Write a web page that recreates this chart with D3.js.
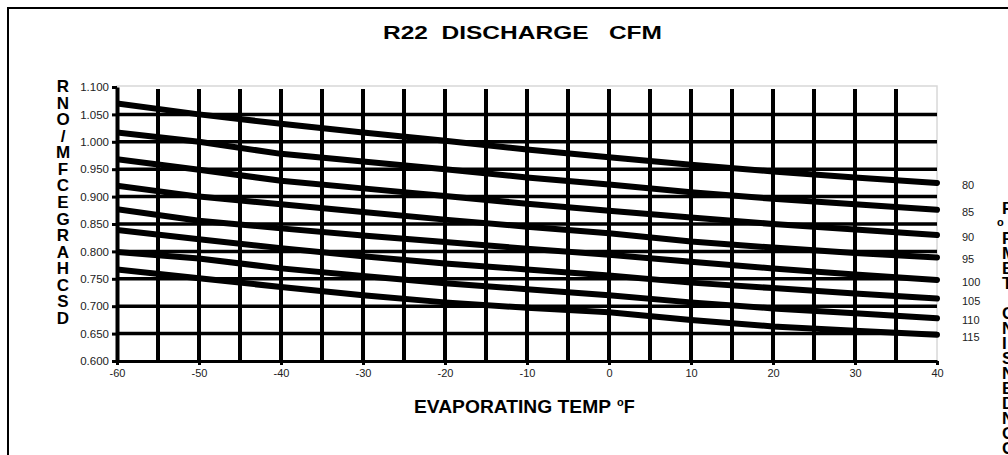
<!DOCTYPE html>
<html>
<head>
<meta charset="utf-8">
<script src="https://cdn.jsdelivr.net/npm/d3@7"></script>
<style>
  html, body { margin: 0; padding: 0; background: #fff; overflow: hidden; }
  svg { display: block; font-family: "Liberation Sans", Arial, sans-serif; }
</style>
</head>
<body>
<script>
// ** DATA ** //
const evapTemps = [-60, -50, -40, -30, -20, -10, 0, 10, 20, 30, 40];
const condTemps = [80, 85, 90, 95, 100, 105, 110, 115];

const cfm80  = [1.070, 1.050, 1.033, 1.017, 1.002, 0.986, 0.972, 0.958, 0.946, 0.935, 0.925];
const cfm85  = [1.017, 1.000, 0.978, 0.964, 0.950, 0.935, 0.922, 0.908, 0.896, 0.886, 0.876];
const cfm90  = [0.968, 0.949, 0.929, 0.915, 0.901, 0.887, 0.874, 0.862, 0.850, 0.840, 0.830];
const cfm95  = [0.920, 0.900, 0.886, 0.872, 0.858, 0.845, 0.833, 0.818, 0.807, 0.797, 0.789];
const cfm100 = [0.877, 0.856, 0.842, 0.829, 0.817, 0.805, 0.794, 0.781, 0.769, 0.758, 0.748];
const cfm105 = [0.839, 0.822, 0.806, 0.791, 0.778, 0.767, 0.756, 0.743, 0.733, 0.723, 0.714];
const cfm110 = [0.799, 0.787, 0.769, 0.755, 0.742, 0.731, 0.720, 0.707, 0.696, 0.687, 0.678];
const cfm115 = [0.767, 0.751, 0.735, 0.720, 0.707, 0.697, 0.689, 0.675, 0.663, 0.655, 0.648];
const seriesValues = [cfm80, cfm85, cfm90, cfm95, cfm100, cfm105, cfm110, cfm115];

const yTicks = [0.600, 0.650, 0.700, 0.750, 0.800, 0.850, 0.900, 0.950, 1.000, 1.050, 1.100];
const xTicks = [-60, -50, -40, -30, -20, -10, 0, 10, 20, 30, 40];
const xGrid = [-55, -50, -45, -40, -35, -30, -25, -20, -15, -10, -5, 0, 5, 10, 15, 20, 25, 30, 35];

const chartTitle = "R22  DISCHARGE   CFM";
const xTitle = "EVAPORATING TEMP";
// rotated axis titles render as stacked letters in the original
const yTitleChars = ["R", "N", "O", "/", "M", "F", "C", "E", "G", "R", "A", "H", "C", "S", "D"];
const rightTitleChars = ["F", "o", "P", "M", "E", "T", " ", "G", "N", "I", "S", "N", "E", "D", "N", "O", "C"];

const onReady = () => {
  const svg = d3.select("body").append("svg").attr("width", 1008).attr("height", 455);

  const x = d3.scaleLinear().domain([-60, 40]).range([117, 937]);
  const y = d3.scaleLinear().domain([0.6, 1.1]).range([361, 87]);

  // outer frame
  svg.append("rect")
    .attr("x", 8).attr("y", 8).attr("width", 1100).attr("height", 500)
    .attr("fill", "none").attr("stroke", "#000").attr("stroke-width", 2);

  // plot area border (light grey)
  svg.append("rect")
    .attr("x", x(-60)).attr("y", y(1.1) - 1)
    .attr("width", x(40) - x(-60)).attr("height", y(0.6) - y(1.1) + 1)
    .attr("fill", "none").attr("stroke", "#d8d8d8").attr("stroke-width", 1.5);

  // gridlines
  const grid = svg.append("g").attr("class", "grid");
  grid.selectAll("line.h")
    .data(yTicks.filter(d => d > 0.6 && d < 1.1))
    .enter().append("line")
    .attr("class", "h")
    .attr("x1", x(-60)).attr("x2", x(40))
    .attr("y1", d => y(d)).attr("y2", d => y(d))
    .attr("stroke", "#000").attr("stroke-width", 3.5);
  grid.selectAll("line.v")
    .data(xGrid)
    .enter().append("line")
    .attr("class", "v")
    .attr("x1", d => x(d)).attr("x2", d => x(d))
    .attr("y1", y(1.1) + 2).attr("y2", y(0.6))
    .attr("stroke", "#000").attr("stroke-width", 4);

  // series
  svg.append("clipPath").attr("id", "plotClip")
    .append("rect").attr("x", x(-60)).attr("y", 60).attr("width", 840).attr("height", 320);

  const line = d3.line()
    .x((d, i) => x(evapTemps[i]))
    .y(d => y(d));

  svg.append("g").attr("clip-path", "url(#plotClip)")
    .selectAll("path")
    .data(seriesValues)
    .enter().append("path")
    .attr("d", line)
    .attr("fill", "none")
    .attr("stroke", "#000")
    .attr("stroke-width", 6)
    .attr("stroke-linecap", "round")
    .attr("stroke-linejoin", "round");

  // series labels at the right
  svg.append("g").selectAll("text")
    .data(condTemps)
    .enter().append("text")
    .attr("x", 962)
    .attr("y", (d, i) => y(seriesValues[i][seriesValues[i].length - 1]) + 6)
    .attr("font-size", 11)
    .attr("fill", "#222")
    .text(d => d);

  // axes
  const yAxis = svg.append("g")
    .attr("transform", `translate(${x(-60)},0)`)
    .call(d3.axisLeft(y).tickValues(yTicks).tickFormat(d3.format(".3f")).tickSize(5).tickSizeOuter(0).tickPadding(3));
  yAxis.select(".domain").attr("stroke", "#000").attr("stroke-width", 4);
  yAxis.selectAll(".tick line").attr("stroke", "#000").attr("stroke-width", 3);
  yAxis.selectAll(".tick text").attr("font-size", 11.5).attr("fill", "#222")
    .attr("font-family", "'Liberation Sans', Arial, sans-serif");

  const xAxis = svg.append("g")
    .attr("transform", `translate(0,${y(0.6)})`)
    .call(d3.axisBottom(x).tickValues(xTicks).tickFormat(d => String(d)).tickSize(4).tickSizeOuter(0).tickPadding(4));
  xAxis.select(".domain").attr("stroke", "#000").attr("stroke-width", 3);
  xAxis.selectAll(".tick line").attr("stroke", "#000").attr("stroke-width", 3);
  xAxis.selectAll(".tick text").attr("font-size", 11).attr("fill", "#222")
    .attr("font-family", "'Liberation Sans', Arial, sans-serif");

  // titles
  svg.append("text")
    .attr("x", 383).attr("y", 39)
    .attr("font-size", 18).attr("font-weight", "bold")
    .attr("textLength", 279).attr("lengthAdjust", "spacingAndGlyphs")
    .style("white-space", "pre")
    .text(chartTitle);

  const xt = svg.append("text")
    .attr("x", 414).attr("y", 413)
    .attr("font-size", 18).attr("font-weight", "bold");
  xt.append("tspan").attr("textLength", 197).attr("lengthAdjust", "spacingAndGlyphs").text(xTitle);
  xt.append("tspan").attr("dx", 6).attr("dy", -7).attr("font-size", 11).text("o");
  xt.append("tspan").attr("dy", 7).text("F");

  const yStep = d3.scaleLinear().domain([0, yTitleChars.length - 1]).range([92, 324]);
  svg.append("g").selectAll("text")
    .data(yTitleChars)
    .enter().append("text")
    .attr("x", 63).attr("y", (d, i) => yStep(i))
    .attr("text-anchor", "middle")
    .attr("font-size", 17).attr("font-weight", "bold")
    .text(d => d);

  const rStep = d3.scaleLinear().domain([0, rightTitleChars.length - 1]).range([214, 454]);
  svg.append("g").selectAll("text")
    .data(rightTitleChars)
    .enter().append("text")
    .attr("x", d => d === "o" ? 997 : 1002)
    .attr("y", (d, i) => rStep(i) - (d === "o" ? 3 : 0))
    .attr("font-size", d => d === "o" ? 11 : 17)
    .attr("font-weight", "bold")
    .text(d => d);
};
document.addEventListener("DOMContentLoaded", onReady);
</script>
</body>
</html>
